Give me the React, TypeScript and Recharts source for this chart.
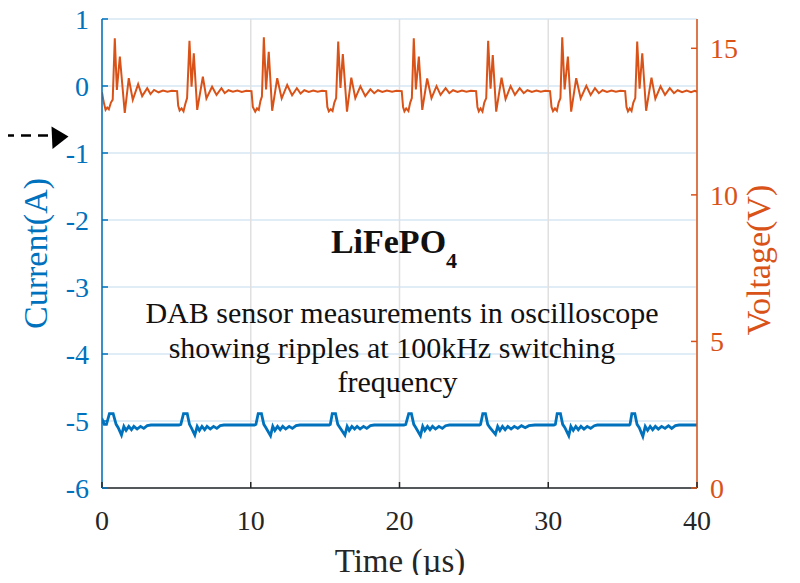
import React from 'react';
import { LineChart, Line, XAxis, YAxis, CartesianGrid } from 'recharts';

const timeTicks = [0, 10, 20, 30, 40];
const currentTicks = [-6, -5, -4, -3, -2, -1, 0, 1];
const voltageTicks = [0, 5, 10, 15];

// Voltage trace (µs, V)
const voltTime = [
  0, 0.1, 0.24, 0.35, 0.46, 0.6, 0.72, 0.86, 1.0, 1.2, 1.53, 1.8, 2.07, 2.43, 2.7, 3.04, 3.26, 3.5, 3.8, 4.1, 4.4, 4.7, 5.05,
  5.12, 5.22, 5.35, 5.48, 5.6, 5.72, 5.88, 6.02, 6.17, 6.4, 6.78, 7.02, 7.4, 7.7, 8.03, 8.25, 8.5, 8.8, 9.1, 9.4, 9.7, 10.05,
  10.14, 10.3, 10.42, 10.54, 10.65, 10.75, 10.88, 11.03, 11.21, 11.44, 11.78, 12.08, 12.45, 12.78, 13.1, 13.35, 13.6, 13.9, 14.2, 14.5, 14.8, 15.07,
  15.15, 15.25, 15.38, 15.5, 15.62, 15.74, 15.88, 16.03, 16.19, 16.47, 16.76, 17.03, 17.37, 17.7, 18.04, 18.3, 18.55, 18.85, 19.15, 19.5, 19.8, 20.15,
  20.24, 20.33, 20.45, 20.6, 20.72, 20.83, 20.96, 21.1, 21.3, 21.53, 21.86, 22.15, 22.49, 22.76, 23.1, 23.35, 23.6, 23.9, 24.2, 24.5, 24.8, 25.15,
  25.24, 25.33, 25.45, 25.58, 25.7, 25.83, 25.96, 26.12, 26.27, 26.5, 26.86, 27.13, 27.47, 27.76, 28.08, 28.35, 28.6, 28.9, 29.2, 29.5, 29.8, 30.12,
  30.22, 30.32, 30.45, 30.58, 30.7, 30.82, 30.94, 31.1, 31.32, 31.54, 31.88, 32.18, 32.56, 32.85, 33.14, 33.4, 33.65, 33.95, 34.25, 34.55, 34.85, 35.17,
  35.26, 35.36, 35.48, 35.6, 35.72, 35.85, 35.98, 36.14, 36.32, 36.58, 36.94, 37.2, 37.55, 37.85, 38.17, 38.45, 38.7, 39.0, 39.3, 39.6, 39.85, 40,
];
const voltValue = [
  13.5, 13.2, 12.9, 12.98, 12.92, 13.15, 13.25, 15.34, 13.58, 14.72, 12.8, 13.98, 13.24, 13.78, 13.37, 13.64, 13.44, 13.58, 13.5, 13.56, 13.52, 13.55, 13.54,
  13.05, 12.88, 12.95, 12.85, 13.1, 13.3, 15.26, 13.69, 14.83, 12.9, 14.03, 13.29, 13.69, 13.41, 13.64, 13.47, 13.57, 13.52, 13.56, 13.51, 13.55, 13.54,
  13.0, 12.84, 12.95, 12.9, 13.2, 13.35, 15.38, 13.6, 14.88, 12.87, 13.98, 13.29, 13.75, 13.4, 13.64, 13.46, 13.57, 13.51, 13.56, 13.52, 13.55, 13.54,
  13.0, 12.85, 12.92, 12.86, 13.15, 13.3, 15.23, 13.65, 14.8, 12.84, 14.0, 13.3, 13.7, 13.37, 13.6, 13.47, 13.57, 13.51, 13.56, 13.52, 13.55, 13.54,
  13.0, 12.85, 12.95, 12.86, 13.15, 13.3, 15.34, 13.6, 14.72, 12.9, 13.97, 13.3, 13.71, 13.41, 13.64, 13.47, 13.57, 13.51, 13.56, 13.52, 13.55, 13.54,
  13.0, 12.85, 12.95, 12.84, 13.15, 13.3, 15.26, 13.62, 14.77, 12.84, 14.0, 13.27, 13.71, 13.41, 13.64, 13.47, 13.57, 13.51, 13.56, 13.52, 13.55, 13.54,
  13.0, 12.86, 12.95, 12.87, 13.15, 13.3, 15.38, 13.6, 14.72, 12.84, 13.98, 13.29, 13.72, 13.41, 13.64, 13.47, 13.57, 13.51, 13.56, 13.52, 13.55, 13.54,
  13.0, 12.85, 12.95, 12.86, 13.15, 13.3, 15.23, 13.62, 14.83, 12.87, 14.0, 13.28, 13.7, 13.41, 13.64, 13.47, 13.57, 13.5, 13.56, 13.5, 13.55, 13.52,
];

// Current trace (µs, A)
const currTime = [
  0, 0.06, 0.15, 0.3, 0.5, 0.75, 0.95, 1.09, 1.31, 1.47, 1.62, 1.8, 1.98, 2.14, 2.36, 2.59, 2.81, 3.04, 3.3, 4.0, 5.17,
  5.3, 5.48, 5.73, 5.88, 6.0, 6.24, 6.4, 6.55, 6.72, 6.9, 7.06, 7.28, 7.5, 7.72, 7.95, 8.2, 10.25,
  10.35, 10.5, 10.72, 10.88, 11.02, 11.33, 11.48, 11.62, 11.8, 11.98, 12.15, 12.35, 12.58, 12.8, 13.05, 13.3, 15.27,
  15.35, 15.48, 15.7, 15.85, 16.0, 16.33, 16.48, 16.62, 16.8, 16.98, 17.15, 17.35, 17.58, 17.8, 18.05, 18.3, 20.3,
  20.42, 20.62, 20.8, 20.96, 21.1, 21.41, 21.56, 21.7, 21.88, 22.05, 22.22, 22.42, 22.65, 22.88, 23.1, 23.35, 25.38,
  25.45, 25.6, 25.78, 25.93, 26.08, 26.45, 26.6, 26.75, 26.92, 27.1, 27.28, 27.5, 27.72, 27.95, 28.2, 28.45, 28.7, 29.1, 30.38,
  30.48, 30.6, 30.82, 30.97, 31.12, 31.38, 31.52, 31.68, 31.85, 32.02, 32.2, 32.4, 32.62, 32.85, 33.1, 33.3, 35.45,
  35.5, 35.62, 35.82, 35.97, 36.12, 36.36, 36.52, 36.68, 36.85, 37.02, 37.2, 37.4, 37.62, 37.85, 38.08, 38.3, 38.55, 38.8, 40,
];
const currValue = [
  -5.04, -5.0, -5.05, -5.05, -4.89, -4.89, -5.05, -5.1, -5.21, -5.08, -5.14, -5.08, -5.13, -5.08, -5.12, -5.08, -5.11, -5.07, -5.06, -5.06, -5.06,
  -5.05, -4.89, -4.89, -5.05, -5.1, -5.21, -5.08, -5.14, -5.08, -5.13, -5.08, -5.12, -5.08, -5.11, -5.07, -5.06, -5.06,
  -5.05, -4.89, -4.89, -5.05, -5.1, -5.22, -5.08, -5.14, -5.08, -5.13, -5.08, -5.12, -5.08, -5.11, -5.07, -5.06, -5.06,
  -5.05, -4.89, -4.89, -5.05, -5.1, -5.21, -5.08, -5.14, -5.08, -5.12, -5.08, -5.12, -5.08, -5.11, -5.07, -5.06, -5.06,
  -5.05, -4.89, -4.89, -5.05, -5.1, -5.22, -5.08, -5.14, -5.08, -5.13, -5.08, -5.12, -5.08, -5.11, -5.07, -5.06, -5.06,
  -5.05, -4.89, -4.89, -5.05, -5.1, -5.2, -5.08, -5.14, -5.08, -5.13, -5.08, -5.12, -5.08, -5.11, -5.07, -5.1, -5.07, -5.06, -5.06,
  -5.05, -4.89, -4.89, -5.05, -5.1, -5.22, -5.08, -5.14, -5.08, -5.13, -5.08, -5.12, -5.08, -5.11, -5.07, -5.06, -5.06,
  -5.05, -4.89, -4.89, -5.05, -5.1, -5.23, -5.08, -5.14, -5.08, -5.13, -5.08, -5.12, -5.08, -5.11, -5.07, -5.11, -5.07, -5.06, -5.06,
];

const voltageData = voltTime.map((t, i) => ({ t, v: voltValue[i] }));
const currentData = currTime.map((t, i) => ({ t, c: currValue[i] }));

const BLUE = '#0072BD';
const ORANGE = '#D95319';
const DARK = '#262626';
const FONT = "'Liberation Serif', 'Times New Roman', serif";
const TICK_FS = 28;
const TICK_LEN = 6;

const LeftTick = (props: any) => {
  const { x, y, payload } = props;
  return (
    <g>
      <line x1={x} x2={x + TICK_LEN} y1={y} y2={y} stroke={BLUE} strokeWidth={1.5} />
      <text x={x - 13} y={y} dy="0.35em" textAnchor="end" fill={BLUE} fontSize={TICK_FS} fontFamily={FONT}>
        {payload.value}
      </text>
    </g>
  );
};

const RightTick = (props: any) => {
  const { x, y, payload } = props;
  return (
    <g>
      <line x1={x} x2={x - TICK_LEN} y1={y} y2={y} stroke={ORANGE} strokeWidth={1.5} />
      <text x={x + 13} y={y} dy="0.35em" textAnchor="start" fill={ORANGE} fontSize={TICK_FS} fontFamily={FONT}>
        {payload.value}
      </text>
    </g>
  );
};

const BottomTick = (props: any) => {
  const { x, y, payload } = props;
  return (
    <g>
      <line x1={x} x2={x} y1={y} y2={y - TICK_LEN} stroke={DARK} strokeWidth={1.5} />
      <text x={x} y={y + 42} textAnchor="middle" fill={DARK} fontSize={TICK_FS} fontFamily={FONT}>
        {payload.value}
      </text>
    </g>
  );
};

const TopTick = (props: any) => {
  const { x, y } = props;
  return <line x1={x} x2={x} y1={y} y2={y + TICK_LEN} stroke={DARK} strokeWidth={1.5} />;
};

export default function App() {
  return (
    <div style={{ position: 'relative', width: 800, height: 583, margin: -8 }}>
      <LineChart width={800} height={583} margin={{ top: 19, right: 0, bottom: 0, left: 0 }}>
        <CartesianGrid xAxisId="b" yAxisId="l" vertical={false} stroke="#d6e7f4" strokeWidth={1.5} />
        <CartesianGrid xAxisId="b" yAxisId="l" horizontal={false} stroke="#e0e0e0" strokeWidth={1.5} />
        <XAxis
          xAxisId="b"
          dataKey="t"
          type="number"
          domain={[0, 40]}
          ticks={timeTicks}
          interval={0}
          allowDataOverflow
          height={95}
          tickSize={0}
          tickMargin={0}
          tickLine={false}
          axisLine={{ stroke: DARK, strokeWidth: 1.5 }}
          tick={(p: any) => <BottomTick {...p} />}
        />
        <XAxis
          xAxisId="t"
          orientation="top"
          type="number"
          domain={[0, 40]}
          ticks={timeTicks}
          interval={0}
          height={0}
          tickSize={0}
          tickMargin={0}
          tickLine={false}
          axisLine={{ stroke: DARK, strokeWidth: 1.5 }}
          tick={(p: any) => <TopTick {...p} />}
        />
        <YAxis
          yAxisId="l"
          type="number"
          domain={[-6, 1]}
          ticks={currentTicks}
          interval={0}
          width={102}
          tickSize={0}
          tickMargin={0}
          tickLine={false}
          axisLine={{ stroke: BLUE, strokeWidth: 1.5 }}
          tick={(p: any) => <LeftTick {...p} />}
        />
        <YAxis
          yAxisId="r"
          orientation="right"
          type="number"
          domain={[0, 16]}
          ticks={voltageTicks}
          interval={0}
          width={103}
          tickSize={0}
          tickMargin={0}
          tickLine={false}
          axisLine={{ stroke: ORANGE, strokeWidth: 1.5 }}
          tick={(p: any) => <RightTick {...p} />}
        />
        <Line
          xAxisId="b"
          yAxisId="r"
          data={voltageData}
          dataKey="v"
          type="linear"
          stroke={ORANGE}
          strokeWidth={2}
          dot={false}
          activeDot={false}
          isAnimationActive={false}
        />
        <Line
          xAxisId="b"
          yAxisId="l"
          data={currentData}
          dataKey="c"
          type="linear"
          stroke={BLUE}
          strokeWidth={2.8}
          dot={false}
          activeDot={false}
          isAnimationActive={false}
        />
      </LineChart>
      <svg
        width={800}
        height={583}
        style={{ position: 'absolute', left: 0, top: 0, pointerEvents: 'none' }}
      >
        <line x1={4} y1={135.5} x2={53} y2={135.5} stroke="#000" strokeWidth={2.5} strokeDasharray="10 7" />
        <polygon points="51.5,126.5 68.5,136.5 52.5,149" fill="#000" />
        <text
          x={47}
          y={253.5}
          transform="rotate(-90 47 253.5)"
          textAnchor="middle"
          fill={BLUE}
          fontSize={34}
          fontFamily={FONT}
        >
          Current(A)
        </text>
        <text
          x={770}
          y={260}
          transform="rotate(-90 770 260)"
          textAnchor="middle"
          fill={ORANGE}
          fontSize={34}
          fontFamily={FONT}
        >
          Voltage(V)
        </text>
        <text x={400} y={572} textAnchor="middle" fill={DARK} fontSize={33} fontFamily={FONT}>
          Time (µs)
        </text>
        <text x={394} y={253} textAnchor="middle" fill="#111" fontSize={34} fontWeight="bold" fontFamily={FONT}>
          LiFePO
          <tspan fontSize={22} dy={15}>4</tspan>
        </text>
        <text x={402} y={323} textAnchor="middle" fill="#111" fontSize={30} fontFamily={FONT}>
          DAB sensor measurements in oscilloscope
        </text>
        <text x={392} y={358} textAnchor="middle" fill="#111" fontSize={30} fontFamily={FONT}>
          showing ripples at 100kHz switching
        </text>
        <text x={397.5} y={392} textAnchor="middle" fill="#111" fontSize={30} fontFamily={FONT}>
          frequency
        </text>
      </svg>
    </div>
  );
}
